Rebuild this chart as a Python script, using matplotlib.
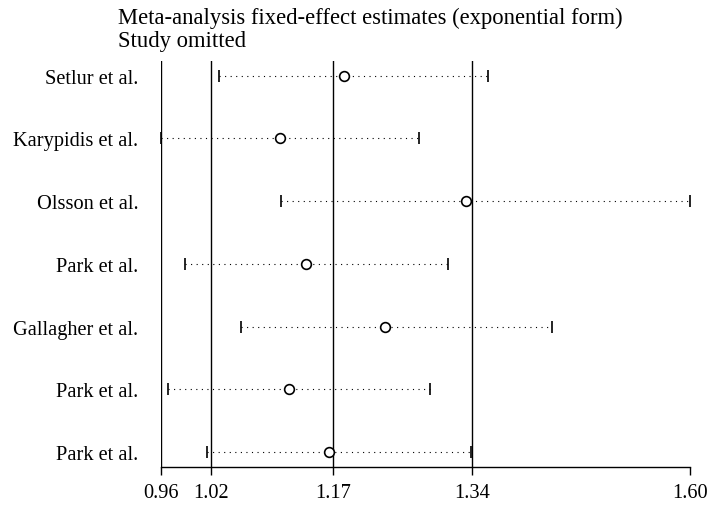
import matplotlib
matplotlib.use("Agg")
import matplotlib.pyplot as plt

# Influence analysis: pooled estimate with each study omitted in turn
studies = ["Setlur et al.", "Karypidis et al.", "Olsson et al.", "Park et al.",
           "Gallagher et al.", "Park et al.", "Park et al."]
estimate = [1.182, 1.104, 1.329, 1.136, 1.231, 1.115, 1.163]
lower = [1.030, 0.960, 1.105, 0.989, 1.057, 0.969, 1.016]
upper = [1.356, 1.272, 1.600, 1.307, 1.433, 1.285, 1.335]

# Overall fixed-effect result (all studies)
overall_lower = 1.021
overall_est = 1.168
overall_upper = 1.336

plt.rcParams["font.family"] = ["Liberation Serif", "DejaVu Serif"]

fig = plt.figure(figsize=(7.07, 5.06), dpi=100)
ax = fig.add_axes([0.2273, 0.0757, 0.976 - 0.2273, 0.8775 - 0.0757])

xmin = min(lower)
xmax = max(upper)
rows = list(range(len(studies)))

for x in [xmin, overall_lower, overall_est, overall_upper]:
    ax.axvline(x, color="black", linewidth=1.0, zorder=1)

for i in rows:
    ax.plot([lower[i], upper[i]], [i, i], color="black", linewidth=0.8,
            linestyle=(0, (1, 4)), clip_on=False, zorder=2)
    ax.plot([lower[i], upper[i]], [i, i], linestyle="none", marker="|",
            markersize=8, markeredgewidth=1.2, color="black",
            clip_on=False, zorder=3)
ax.plot(estimate, rows, linestyle="none", marker="o", markersize=7,
        markerfacecolor="white", markeredgecolor="black",
        markeredgewidth=1.2, zorder=4)

pad = 14.7 / 62.7
ax.set_ylim(len(studies) - 1 + pad, -pad)
ax.set_xlim(xmin, xmax)

ax.set_yticks(rows)
ax.set_yticklabels(studies, fontsize=14.7)
ax.tick_params(axis="y", length=0, pad=16)

ticks = [xmin, overall_lower, overall_est, overall_upper, xmax]
ax.set_xticks(ticks)
ax.set_xticklabels(["%.2f" % t for t in ticks], fontsize=14.7)
ax.tick_params(axis="x", length=6, width=1.0, direction="out", pad=6)

for side in ["top", "right", "left"]:
    ax.spines[side].set_visible(False)
ax.spines["bottom"].set_linewidth(1.0)

fig.text(118 / 707, 1 - 18 / 506, "Meta-analysis fixed-effect estimates (exponential form)",
         fontsize=16.3, va="center", ha="left")
fig.text(118 / 707, 1 - 42 / 506, "Study omitted", fontsize=16.3, va="center", ha="left")

fig.savefig("out.png", dpi=100)
